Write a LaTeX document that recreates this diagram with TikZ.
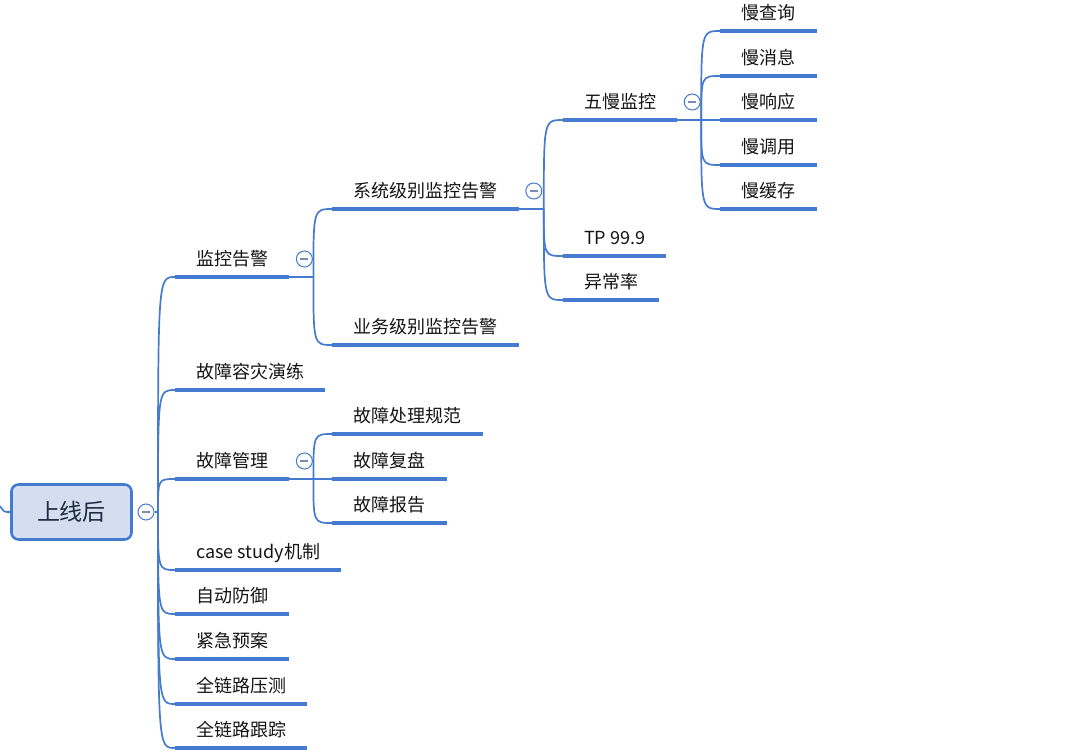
\documentclass[tikz,border=0pt]{standalone}
\usepackage{fontspec}
\setmainfont{Noto Sans CJK SC}
\usepackage{xcolor}
\usepackage{tikz}
\usetikzlibrary{calc,positioning}
\definecolor{mapblue}{RGB}{68,122,208}
\definecolor{rootfill}{RGB}{211,223,240}
\definecolor{roottext}{RGB}{30,42,66}
\definecolor{foldmark}{RGB}{120,140,180}
\tikzset{
    topic/.style={
        anchor=south west,
        inner xsep=21pt, inner ysep=0pt,
        text height=13pt, text depth=11pt,
        text=black!92,
        font={\fontsize{18pt}{21}\selectfont}
    },
    rootnode/.style={
        rectangle,
        rounded corners=7pt,
        draw=mapblue, line width=2.6pt,
        fill=rootfill,
        minimum width=120pt,
        minimum height=55pt,
        text=roottext,
        font={\fontsize{23pt}{26}\selectfont}
    },
    fold/.style={
        circle,
        draw=mapblue, line width=1pt,
        fill=white,
        minimum size=16pt, inner sep=0pt,
        path picture={\draw[foldmark, line width=1.3pt]
            ($(path picture bounding box.center)+(-4pt,0pt)$) --
            ($(path picture bounding box.center)+(4pt,0pt)$);}
    },
    uline/.style={draw=mapblue, line width=4pt},
    branch/.style={draw=mapblue, line width=1.7pt},
}

\begin{document}
\begin{tikzpicture}[x=1pt, y=-1pt]
\useasboundingbox (0,0) rectangle (1080,754);

% root and its first level
\node [rootnode] (root) at (71.5,512) {上线后};
\coordinate (up) at (0,506);
\draw [branch] (up) .. controls (4,512) .. (root.west);
\coordinate (s0) at (158,512);

\foreach \m/\l/\y in {alarm/监控告警/277, drill/故障容灾演练/390, fault/故障管理/479,
    case/case study机制/570, defend/自动防御/614, plan/紧急预案/659,
    stress/全链路压测/704, trace/全链路跟踪/748}
  \node [topic] (\m) at (175,\y) {\l};

\node [fold] (c0) at (146,512) {};
\draw [branch] (c0.east) -- (s0);
\foreach \m in {alarm,drill,fault,case,defend,plan,stress,trace}
  \draw [branch] (s0) .. controls (s0 |- \m.south west) .. (\m.south west);

% monitoring
\coordinate (s1) at ($(alarm.south east)+(24,0)$);
\foreach \m/\l/\d in {sys/系统级别监控告警/-68, biz/业务级别监控告警/68}
  \node [topic] (\m) at ($(s1)+(19,\d)$) {\l};

\coordinate (s2) at ($(sys.south east)+(25,0)$);
\foreach \m/\l/\d in {five/五慢监控/-89, tp/TP 99.9/47, err/异常率/91}
  \node [topic] (\m) at ($(s2)+(19,\d)$) {\l};

\coordinate (s3) at ($(five.south east)+(24,0)$);
\foreach \m/\l/\d in {query/慢查询/-89, msg/慢消息/-44, resp/慢响应/0,
    call/慢调用/45, cache/慢缓存/89}
  \node [topic] (\m) at ($(s3)+(19,\d)$) {\l};

% fault handling
\coordinate (s4) at ($(fault.south east)+(24,0)$);
\foreach \m/\l/\d in {rule/故障处理规范/-45, review/故障复盘/0, report/故障报告/44}
  \node [topic] (\m) at ($(s4)+(19,\d)$) {\l};

% thin links from each parent to its children
\foreach \p/\s/\kids in {alarm/s1/{sys,biz}, sys/s2/{five,tp,err},
    five/s3/{query,msg,resp,call,cache}, fault/s4/{rule,review,report}} {
  \draw [branch] (\p.south east) -- (\s);
  \foreach \k in \kids
    \draw [branch] (\s) .. controls (\s |- \k.south west) .. (\k.south west);
}

% underlines
\foreach \m in {alarm,drill,fault,case,defend,plan,stress,trace,sys,biz,
    five,tp,err,query,msg,resp,call,cache,rule,review,report}
  \draw [uline] (\m.south west) -- (\m.south east);

% fold marks
\foreach \p [count=\i] in {alarm,sys,five,fault}
  \node [fold] (c\i) at ($(\p.south east)+(15,-18)$) {};

\end{tikzpicture}
\end{document}
